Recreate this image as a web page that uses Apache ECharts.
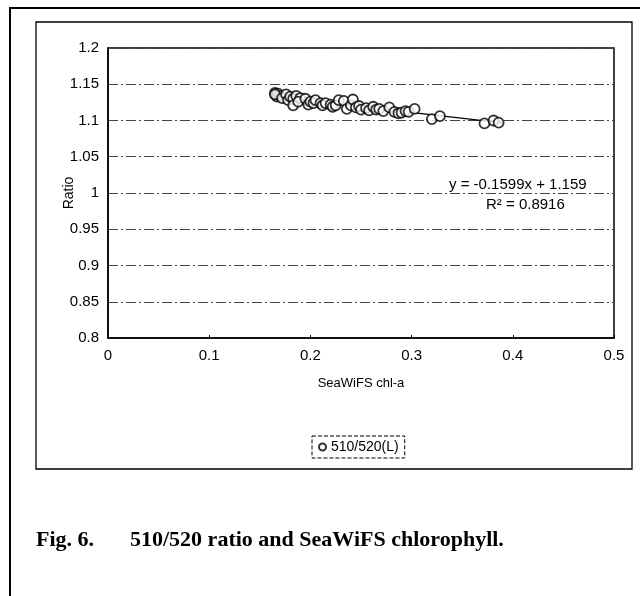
<!DOCTYPE html>
<html>
<head>
<meta charset="utf-8">
<style>
  html, body { margin: 0; padding: 0; background: #fff; }
  #chart { width: 640px; height: 596px; }
</style>
<script src="https://cdn.jsdelivr.net/npm/echarts@6/dist/echarts.min.js"></script>
</head>
<body>
<div id="chart"></div>
<script>
// SeaWiFS chl-a vs 510/520 ratio
var chlA = [
  0.165, 0.166, 0.167, 0.168, 0.170, 0.165, 0.172, 0.176, 0.178, 0.180,
  0.183, 0.183, 0.186, 0.190, 0.188, 0.195, 0.198, 0.200, 0.203, 0.205,
  0.210, 0.212, 0.215, 0.220, 0.222, 0.225, 0.228, 0.233, 0.236, 0.240,
  0.242, 0.245, 0.248, 0.250, 0.255, 0.258, 0.262, 0.265, 0.268, 0.272,
  0.278, 0.283, 0.287, 0.290, 0.294, 0.297, 0.303, 0.320, 0.328, 0.372,
  0.381, 0.386
];
var ratio = [
  1.138, 1.135, 1.133, 1.137, 1.134, 1.136, 1.131, 1.136, 1.128, 1.133,
  1.130, 1.121, 1.134, 1.131, 1.126, 1.130, 1.122, 1.126, 1.124, 1.128,
  1.124, 1.121, 1.124, 1.122, 1.119, 1.121, 1.128, 1.127, 1.116, 1.121,
  1.129, 1.118, 1.120, 1.115, 1.117, 1.114, 1.119, 1.115, 1.116, 1.113,
  1.118, 1.112, 1.110, 1.111, 1.113, 1.112, 1.116, 1.102, 1.106, 1.096,
  1.100, 1.097
];
// linear trend line end points
var trendX = [0.165, 0.390];
var trendY = [1.1326, 1.0966];

var yTicks = { min: 0.8, max: 1.2, interval: 0.05 };
var xTicks = { min: 0, max: 0.5, interval: 0.1 };

var points = chlA.map(function (x, i) { return [x, ratio[i]]; });
var trend = trendX.map(function (x, i) { return [x, trendY[i]]; });

var sans = 'Liberation Sans, Arial, sans-serif';

var chart = echarts.init(document.getElementById('chart'));
chart.setOption({
  animation: false,
  textStyle: { fontFamily: sans, color: '#000' },
  grid: {
    left: 108, right: 26, top: 48, bottom: 258,
    show: true, borderColor: '#000', borderWidth: 1.5
  },
  legend: {
    data: [{ name: '510/520(L)', icon: 'circle' }],
    left: 312, top: 436,
    padding: [4, 6],
    itemWidth: 7, itemHeight: 7, itemGap: 4,
    borderColor: '#000', borderWidth: 1, borderType: 'dashed',
    textStyle: { fontSize: 14, color: '#000', fontFamily: sans }
  },
  xAxis: {
    type: 'value',
    min: xTicks.min, max: xTicks.max, interval: xTicks.interval,
    name: 'SeaWiFS chl-a',
    nameLocation: 'middle', nameGap: 39,
    nameTextStyle: { fontSize: 13, color: '#000' },
    axisLine: { show: true, lineStyle: { color: '#000', width: 1.5 } },
    axisTick: { show: true, inside: true, length: 3, lineStyle: { color: '#000' } },
    axisLabel: { fontSize: 15, color: '#000', margin: 10 },
    splitLine: { show: false }
  },
  yAxis: {
    type: 'value',
    min: yTicks.min, max: yTicks.max, interval: yTicks.interval,
    name: 'Ratio',
    nameLocation: 'middle', nameGap: 32, nameMoveOverlap: false,
    nameTextStyle: { fontSize: 14, color: '#000' },
    axisLine: { show: true, lineStyle: { color: '#000', width: 1.5 } },
    axisTick: { show: false },
    axisLabel: { fontSize: 15, color: '#000', margin: 9 },
    splitLine: { show: true, lineStyle: { color: '#444', width: 1, type: [10, 3, 2, 3] } }
  },
  series: [
    {
      name: '510/520(L)',
      type: 'scatter',
      data: points,
      symbol: 'circle',
      symbolSize: 10,
      itemStyle: { color: '#fff', borderColor: '#000', borderWidth: 1.8 },
      z: 3
    },
    {
      name: 'trend',
      type: 'line',
      data: trend,
      symbol: 'none',
      lineStyle: { color: '#000', width: 1.2 },
      z: 2
    }
  ],
  graphic: [
    {
      type: 'rect', silent: true,
      shape: { x: 10, y: 8, width: 660, height: 620 },
      style: { fill: null, stroke: '#000', lineWidth: 2 }
    },
    {
      type: 'rect', silent: true,
      shape: { x: 36, y: 22, width: 596, height: 447 },
      style: { fill: null, stroke: '#000', lineWidth: 1.3 }
    },
    {
      type: 'text', silent: true, left: 449, top: 177,
      style: { text: 'y = -0.1599x + 1.159', fontSize: 15, fill: '#000', fontFamily: sans }
    },
    {
      type: 'text', silent: true, left: 486, top: 197,
      style: { text: 'R² = 0.8916', fontSize: 15, fill: '#000', fontFamily: sans }
    },
    {
      type: 'text', silent: true, left: 36, top: 529,
      style: { text: 'Fig. 6.', fontSize: 22, fontWeight: 'bold', fill: '#000',
               fontFamily: 'Liberation Serif, Times New Roman, serif' }
    },
    {
      type: 'text', silent: true, left: 130, top: 529,
      style: { text: '510/520 ratio and SeaWiFS chlorophyll.', fontSize: 22,
               fontWeight: 'bold', fill: '#000',
               fontFamily: 'Liberation Serif, Times New Roman, serif' }
    }
  ]
});
</script>
</body>
</html>
